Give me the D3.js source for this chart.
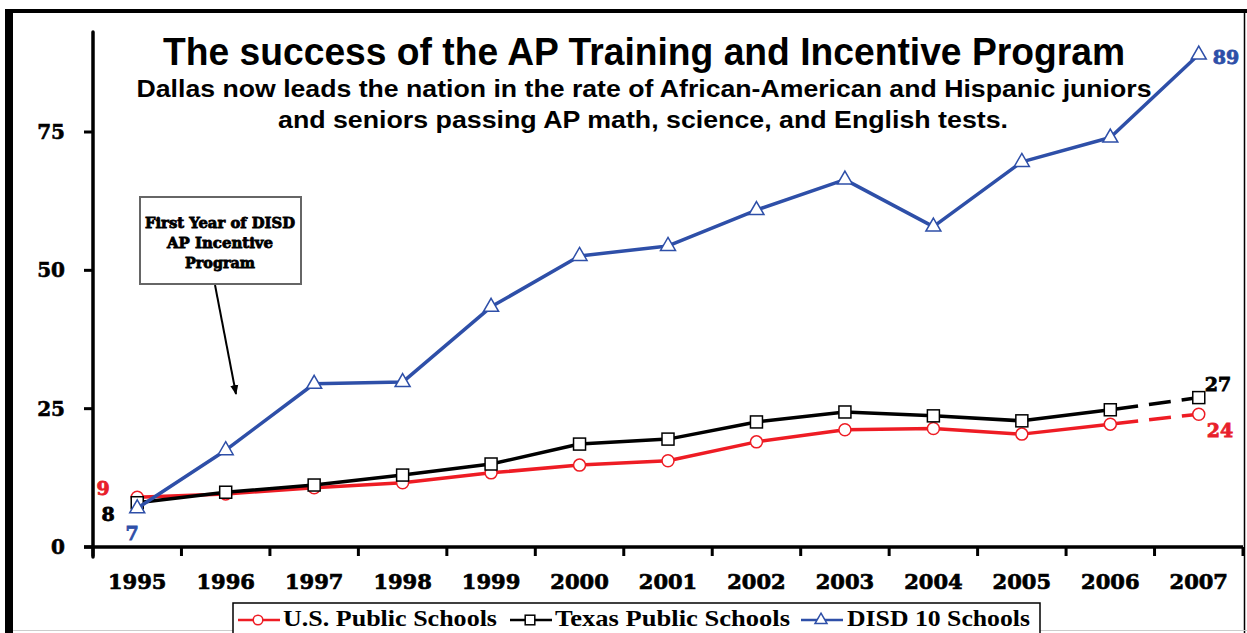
<!DOCTYPE html>
<html>
<head>
<meta charset="utf-8">
<script src="https://cdn.jsdelivr.net/npm/d3@7"></script>
<style>
  body { margin: 0; background: #fff; }
  svg { display: block; }
</style>
</head>
<body>
<div id="chart"></div>
<script>
// data
const years = ["1995", "1996", "1997", "1998", "1999", "2000", "2001", "2002", "2003", "2004", "2005", "2006", "2007"];
const usValues = [9, 9.6, 10.7, 11.6, 13.4, 14.8, 15.6, 19, 21.2, 21.4, 20.4, 22.2, 24];
const texasValues = [8, 9.9, 11.2, 13, 15, 18.6, 19.5, 22.6, 24.4, 23.7, 22.8, 24.8, 27];
const disdValues = [7, 17.5, 29.5, 29.8, 43.4, 52.6, 54.4, 60.9, 66.4, 57.9, 69.6, 74, 89];
const yTicks = [0, 25, 50, 75];
const seriesNames = ["U.S. Public Schools", "Texas Public Schools", "DISD 10 Schools"];

const width = 1247, height = 633;
const x0 = 93, x1 = 1243, yBase = 547;

const svg = d3.select("#chart").append("svg").attr("width", width).attr("height", height);

// outer frame
svg.append("rect").attr("x", 5).attr("y", 9).attr("width", 1242).attr("height", 4).attr("fill", "#000");
svg.append("rect").attr("x", 5).attr("y", 9).attr("width", 8).attr("height", 624).attr("fill", "#000");
svg.append("line").attr("x1", 1244.5).attr("x2", 1244.5).attr("y1", 9).attr("y2", 633).attr("stroke", "#000").attr("stroke-width", 1.5);
svg.append("line").attr("x1", 13).attr("x2", 1247).attr("y1", 630.5).attr("y2", 630.5).attr("stroke", "#ccc").attr("stroke-width", 1);

const x = d3.scaleBand().domain(years).range([x0, x1]);
const y = d3.scaleLinear().domain([0, 75]).range([yBase, 132]);
const cx = d => x(d) + x.bandwidth() / 2;

const heavy = "'DejaVu Serif', serif";
const sans = "'Liberation Sans', Arial, sans-serif";

// y axis
svg.append("line").attr("x1", x0).attr("x2", x0).attr("y1", 32).attr("y2", yBase + 10)
  .attr("stroke", "#000").attr("stroke-width", 3.5).attr("stroke-linecap", "round");
svg.selectAll("line.ytick").data(yTicks).join("line").attr("class", "ytick")
  .attr("x1", x0 - 9).attr("x2", x0).attr("y1", d => y(d)).attr("y2", d => y(d))
  .attr("stroke", "#000").attr("stroke-width", 3);
svg.selectAll("text.ylab").data(yTicks).join("text").attr("class", "ylab")
  .attr("x", 65).attr("y", d => y(d) + 7).attr("text-anchor", "end")
  .style("font-family", heavy).style("font-weight", "bold").style("font-size", "20px")
  .attr("stroke", "#000").attr("stroke-width", 0.6)
  .text(d => d);

// x axis
svg.append("line").attr("x1", x0 - 9).attr("x2", x1).attr("y1", yBase).attr("y2", yBase)
  .attr("stroke", "#000").attr("stroke-width", 3.5);
const xTickPos = years.map(d => x(d)).concat([x1]);
svg.selectAll("line.xtick").data(xTickPos).join("line").attr("class", "xtick")
  .attr("x1", d => d).attr("x2", d => d).attr("y1", yBase).attr("y2", yBase + 9)
  .attr("stroke", "#000").attr("stroke-width", 3);
svg.selectAll("text.xlab").data(years).join("text").attr("class", "xlab")
  .attr("x", d => cx(d)).attr("y", 589).attr("text-anchor", "middle")
  .style("font-family", heavy).style("font-weight", "bold").style("font-size", "21px")
  .attr("stroke", "#000").attr("stroke-width", 0.7)
  .text(d => d);

// titles
svg.append("text").attr("x", 644).attr("y", 65).attr("text-anchor", "middle")
  .attr("textLength", 962).attr("lengthAdjust", "spacingAndGlyphs")
  .style("font-family", sans).style("font-weight", "bold").style("font-size", "38px")
  .text("The success of the AP Training and Incentive Program");
svg.append("text").attr("x", 644).attr("y", 97).attr("text-anchor", "middle")
  .attr("textLength", 1015).attr("lengthAdjust", "spacingAndGlyphs")
  .style("font-family", sans).style("font-weight", "bold").style("font-size", "23.5px")
  .text("Dallas now leads the nation in the rate of African-American and Hispanic juniors");
svg.append("text").attr("x", 643).attr("y", 128).attr("text-anchor", "middle")
  .attr("textLength", 730).attr("lengthAdjust", "spacingAndGlyphs")
  .style("font-family", sans).style("font-weight", "bold").style("font-size", "23.5px")
  .text("and seniors passing AP math, science, and English tests.");

// annotation box + arrow
svg.append("defs").append("marker").attr("id", "arrow").attr("viewBox", "0 0 10 10")
  .attr("refX", 9).attr("refY", 5).attr("markerWidth", 5).attr("markerHeight", 5).attr("orient", "auto")
  .append("path").attr("d", "M0,1 L10,5 L0,9 Z").attr("fill", "#000");
svg.append("line").attr("x1", 215).attr("y1", 285).attr("x2", 236).attr("y2", 394)
  .attr("stroke", "#000").attr("stroke-width", 2).attr("marker-end", "url(#arrow)");
svg.append("rect").attr("x", 140).attr("y", 197).attr("width", 161).attr("height", 87)
  .attr("fill", "#fff").attr("stroke", "#666").attr("stroke-width", 2);
const noteLines = [["First Year of DISD", 150], ["AP Incentive", 106], ["Program", 70]];
noteLines.forEach(([t, len], i) => {
  svg.append("text").attr("x", 220).attr("y", 228 + i * 20).attr("text-anchor", "middle")
    .attr("textLength", len).attr("lengthAdjust", "spacingAndGlyphs")
    .style("font-family", heavy).style("font-weight", "bold").style("font-size", "14px")
    .attr("stroke", "#000").attr("stroke-width", 0.8)
    .text(t);
});

// series
const series = [
  { name: seriesNames[0], values: usValues, color: "#ee1c24", marker: "circle" },
  { name: seriesNames[1], values: texasValues, color: "#000000", marker: "square" },
  { name: seriesNames[2], values: disdValues, color: "#2e4fa8", marker: "triangle" }
];

const line = d3.line().x(d => cx(d.year)).y(d => y(d.value));

const drawMarker = (g, type, color, sz = 1) => {
  if (type === "circle") {
    g.append("circle").attr("r", 6 * sz).attr("fill", "#fff").attr("stroke", color).attr("stroke-width", 1.5);
  } else if (type === "square") {
    g.append("rect").attr("x", -6 * sz).attr("y", -6 * sz).attr("width", 12 * sz).attr("height", 12 * sz)
      .attr("fill", "#fff").attr("stroke", color).attr("stroke-width", 1.5);
  } else {
    g.append("path").attr("d", `M0,${-8.5 * sz} L${7.5 * sz},${4.5 * sz} L${-7.5 * sz},${4.5 * sz} Z`)
      .attr("fill", "#fff").attr("stroke", color).attr("stroke-width", 1.5);
  }
};

series.forEach(s => {
  const pts = years.map((yr, i) => ({ year: yr, value: s.values[i] }));
  const dashed = s.marker !== "triangle";
  const solidPts = dashed ? pts.slice(0, pts.length - 1) : pts;
  svg.append("path").datum(solidPts).attr("d", line)
    .attr("fill", "none").attr("stroke", s.color).attr("stroke-width", 3.5).attr("stroke-linejoin", "round");
  if (dashed) {
    svg.append("path").datum(pts.slice(pts.length - 2)).attr("d", line)
      .attr("fill", "none").attr("stroke", s.color).attr("stroke-width", 3.5)
      .attr("stroke-dasharray", "22,11").attr("stroke-dashoffset", -6);
  }
  pts.forEach(p => {
    const g = svg.append("g").attr("transform", `translate(${cx(p.year)},${y(p.value)})`);
    drawMarker(g, s.marker, s.color);
  });
});

// end labels
const endLabel = (txt, xx, yy, color) => svg.append("text").attr("x", xx).attr("y", yy).attr("text-anchor", "middle")
  .style("font-family", heavy).style("font-weight", "bold").style("font-size", "19px")
  .attr("fill", color).attr("stroke", color).attr("stroke-width", 0.8).text(txt);
endLabel(Math.round(usValues[0]), 103, 495, "#e8202a");
endLabel(Math.round(texasValues[0]), 108, 521, "#000");
endLabel(Math.round(disdValues[0]), 132, 540, "#2e4fa8");
endLabel(Math.round(disdValues[12]), 1226, 64, "#2e4fa8");
endLabel(Math.round(texasValues[12]), 1218, 391, "#000");
endLabel(Math.round(usValues[12]), 1220, 437, "#e8202a");

// legend
const legendG = svg.append("g");
legendG.append("rect").attr("x", 233).attr("y", 603).attr("width", 807).attr("height", 40)
  .attr("fill", "#fff").attr("stroke", "#000").attr("stroke-width", 1.5);
const legendItems = [
  { lx: 238, tx: 283, len: 214 },
  { lx: 510, tx: 555, len: 235 },
  { lx: 801, tx: 847, len: 183 }
];
series.forEach((s, i) => {
  const it = legendItems[i];
  const g = legendG.append("g").attr("transform", `translate(${it.lx},620)`);
  g.append("line").attr("x1", 0).attr("x2", 42).attr("stroke", s.color).attr("stroke-width", 2.5);
  drawMarker(g.append("g").attr("transform", "translate(20,0)"), s.marker, s.color, 0.8);
  legendG.append("text").attr("x", it.tx).attr("y", 626)
    .attr("textLength", it.len).attr("lengthAdjust", "spacingAndGlyphs")
    .style("font-family", "'Liberation Serif', 'Times New Roman', serif").style("font-weight", "bold").style("font-size", "22.5px")
    .text(s.name);
});
</script>
</body>
</html>
